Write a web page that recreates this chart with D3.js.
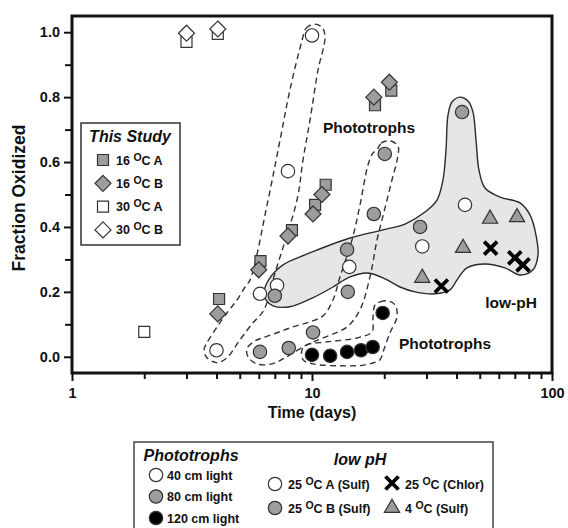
<!DOCTYPE html>
<html>
<head>
<meta charset="utf-8">
<script src="https://cdn.jsdelivr.net/npm/d3@7"></script>
<style>
  body { margin: 0; background: #fff; }
  text { font-family: Arial, "Liberation Sans", sans-serif; font-weight: bold; fill: #111; }
</style>
</head>
<body>
<div id="chart"></div>
<script>
// ---- data (days, fraction oxidized) ----
const study16A = [[4.1,0.178],[6.1,0.295],[8.25,0.39],[10.3,0.468],[11.4,0.53],[18.3,0.775],[21.4,0.82]];
const study16B = [[4.05,0.132],[6.0,0.268],[7.94,0.372],[10.1,0.44],[11.0,0.50],[18.1,0.80],[21.0,0.846]];
const study30A = [[2.0,0.077],[3.0,0.97],[4.05,0.995]];
const study30B = [[3.0,0.997],[4.05,1.01]];

const photo40 = [[4.0,0.02],[6.07,0.194],[7.94,0.572],[10.0,0.99]];
const photo80 = [[6.07,0.015],[8.0,0.027],[10.1,0.075],[14.1,0.2],[18.1,0.44],[20.1,0.625]];
const photo120 = [[10.0,0.006],[11.9,0.003],[14.0,0.015],[16.0,0.02],[17.9,0.03],[19.7,0.135]];

const lowA = [[7.15,0.22],[14.3,0.277],[28.8,0.34],[43.4,0.468]];
const lowB = [[7.0,0.188],[14.0,0.33],[28.2,0.40],[42.2,0.754]];
const lowChlor = [[34.6,0.218],[55.5,0.335],[70.0,0.305],[75.7,0.283]];
const lowCold = [[28.8,0.243],[42.6,0.335],[55.2,0.425],[71.5,0.43]];

// group outlines (in data units)
const outline40 = [[9.09,0.975],[9.44,1.012],[10.19,1.025],[11.01,1.015],[11.33,0.985],[10.59,0.883],[9.81,0.729],[9.17,0.606],[8.66,0.483],[6.88,0.237],[6.56,0.175],[6.19,0.135],[5.68,0.105],[5.01,0.052],[4.42,-0.003],[4.02,-0.018],[3.65,-0.003],[3.55,0.022],[3.65,0.043],[4.02,0.092],[4.42,0.135],[4.87,0.175],[5.26,0.215],[5.52,0.237],[6.56,0.483],[7.36,0.668],[8.09,0.822]];
const outline80 = [[18.66,0.637],[19.39,0.658],[21.13,0.665],[22.82,0.649],[22.61,0.606],[21.54,0.545],[20.54,0.483],[19.57,0.422],[18.66,0.36],[17.44,0.246],[15.85,0.145],[13.99,0.092],[11.11,0.058],[9.53,0.037],[7.72,-0.003],[6.81,-0.022],[5.90,-0.022],[5.41,0],[5.36,0.025],[5.79,0.049],[6.19,0.058],[7.15,0.074],[8.33,0.092],[9.81,0.108],[11.11,0.126],[12.23,0.175],[13.08,0.246],[14.68,0.36],[15.85,0.468],[17.11,0.591],[17.95,0.628]];
const outline120 = [[18.30,0.16],[19.20,0.169],[20.73,0.172],[22.17,0.16],[22.61,0.123],[21.13,0.074],[19.76,0.015],[19.20,-0.009],[16.63,-0.025],[13.99,-0.028],[10.10,-0.022],[9.17,-0.009],[9.09,0.022],[9.53,0.037],[11.55,0.046],[15.40,0.058],[17.78,0.077],[17.95,0.12]];
const outlineLowPH = [[6.31,0.2],[6.68,0.243],[7.57,0.283],[8.91,0.308],[10.49,0.329],[14.40,0.366],[19.76,0.391],[24.40,0.409],[29.57,0.446],[33.17,0.483],[35.14,0.545],[36.17,0.637],[36.87,0.745],[38.31,0.785],[41.37,0.8],[44.67,0.788],[46.86,0.754],[48.24,0.668],[49.64,0.575],[52.58,0.52],[60.73,0.492],[73.56,0.474],[80.96,0.437],[85.77,0.375],[87.44,0.314],[83.33,0.268],[73.56,0.252],[63.72,0.274],[52.58,0.286],[44.23,0.274],[40.20,0.237],[37.58,0.206],[32.54,0.194],[26.87,0.2],[23.26,0.215],[20.15,0.24],[17.11,0.258],[14.40,0.246],[12.23,0.215],[10.10,0.182],[8.09,0.154],[6.88,0.157],[6.43,0.175]];

const yMajor = [0, 0.2, 0.4, 0.6, 0.8, 1.0];
const yMinor = [0.1, 0.3, 0.5, 0.7, 0.9];
const xMajor = [1, 10, 100];
const xMinor = [2,3,4,5,6,7,8,9,20,30,40,50,60,70,80,90];

const GRAY = "#9d9d9d", EDGE = "#333";

const svg = d3.select("#chart").append("svg").attr("width", 568).attr("height", 528);

const x = d3.scaleLog().domain([1, 100]).range([72, 552]);
const y = d3.scaleLinear().domain([-0.05, 1.05]).range([373, 16]);

// outlines
const blob = d3.line().x(d => x(d[0])).y(d => y(d[1])).curve(d3.curveCatmullRomClosed.alpha(0.5));

svg.append("path").attr("d", blob(outlineLowPH))
  .attr("fill", "#e6e6e6").attr("stroke", "#2a2a2a").attr("stroke-width", 1.4);

[outline40, outline80, outline120].forEach(o => {
  svg.append("path").attr("d", blob(o))
    .attr("fill", "none").attr("stroke", "#333").attr("stroke-width", 1.4)
    .attr("stroke-dasharray", "6,4");
});

// annotation labels
svg.append("text").attr("x", 369).attr("y", 133).attr("text-anchor", "middle")
  .style("font-size", "15.5px").text("Phototrophs");
svg.append("text").attr("x", 445).attr("y", 349).attr("text-anchor", "middle")
  .style("font-size", "15.5px").text("Phototrophs");
svg.append("text").attr("x", 511).attr("y", 308).attr("text-anchor", "middle")
  .style("font-size", "15.5px").text("low-pH");

// marker helpers
const diamond = r => `M0,${-r}L${r},0L0,${r}L${-r},0Z`;
const cross = r => `M${-r},${-r}L${r},${r}M${-r},${r}L${r},${-r}`;
const square = d3.symbol().type(d3.symbolSquare).size(121)();
const tri = d3.symbol().type(d3.symbolTriangle).size(100)();

function marks(data, path, fill, stroke, sw) {
  svg.append("g").selectAll("path").data(data).join("path")
    .attr("transform", d => `translate(${x(d[0])},${y(d[1])})`)
    .attr("d", path).attr("fill", fill).attr("stroke", stroke).attr("stroke-width", sw);
}
function circles(data, fill) {
  svg.append("g").selectAll("circle").data(data).join("circle")
    .attr("cx", d => x(d[0])).attr("cy", d => y(d[1])).attr("r", 6.7)
    .attr("fill", fill).attr("stroke", EDGE).attr("stroke-width", 1.2);
}

marks(study30A, square, "#fff", EDGE, 1.2);
marks(study30B, diamond(8), "#fff", EDGE, 1.2);
marks(study16A, square, GRAY, EDGE, 1.2);
marks(study16B, diamond(8), GRAY, EDGE, 1.2);

circles(photo40, "#fff");
circles(lowA, "#fff");
circles(photo80, GRAY);
circles(lowB, GRAY);
circles(photo120, "#000");
marks(lowCold, tri, GRAY, EDGE, 1.2);
marks(lowChlor, cross(6.5), "none", "#000", 3.8);

// axes
svg.append("g").attr("transform", "translate(72,0)")
  .call(d3.axisLeft(y).tickValues(yMajor).tickFormat(d3.format(".1f")).tickSize(8).tickPadding(4));
svg.append("g").attr("transform", "translate(72,0)")
  .call(d3.axisLeft(y).tickValues(yMinor).tickFormat("").tickSize(7));
svg.append("g").attr("transform", "translate(0,373)")
  .call(d3.axisBottom(x).tickValues(xMajor).tickFormat(d3.format("d")).tickSize(8).tickPadding(7));
svg.append("g").attr("transform", "translate(0,373)")
  .call(d3.axisBottom(x).tickValues(xMinor).tickFormat("").tickSize(6));

svg.selectAll(".domain").remove();
svg.selectAll(".tick line").attr("stroke", "#111").attr("stroke-width", 2);
svg.selectAll(".tick text").style("font-size", "14.5px").style("font-family", "Arial, 'Liberation Sans', sans-serif")
  .style("font-weight", "bold").attr("fill", "#111");

svg.append("rect").attr("x", 72).attr("y", 16).attr("width", 480).attr("height", 357)
  .attr("fill", "none").attr("stroke", "#111").attr("stroke-width", 3);

svg.append("text").attr("x", 312).attr("y", 418).attr("text-anchor", "middle")
  .style("font-size", "16px").text("Time (days)");
svg.append("text").attr("transform", "translate(25,198) rotate(-90)").attr("text-anchor", "middle")
  .style("font-size", "17.5px").text("Fraction Oxidized");

// degree-style label: "16 °C A"
function degLabel(g, tx, ty, pre, post, size) {
  const t = g.append("text").attr("x", tx).attr("y", ty).style("font-size", size + "px");
  t.append("tspan").text(pre);
  t.append("tspan").attr("dy", -4).style("font-size", (size - 2) + "px").text("O");
  t.append("tspan").attr("dy", 4).text(post);
}

// legend: This Study
const lg1 = svg.append("g");
lg1.append("rect").attr("x", 81).attr("y", 123).attr("width", 99).attr("height", 122)
  .attr("fill", "#fff").attr("stroke", "#333").attr("stroke-width", 1.5);
lg1.append("text").attr("x", 130).attr("y", 142).attr("text-anchor", "middle")
  .style("font-size", "16px").style("font-style", "italic").text("This Study");
const studyItems = [["16 ", "C A", square, GRAY], ["16 ", "C B", diamond(8), GRAY],
                    ["30 ", "C A", square, "#fff"], ["30 ", "C B", diamond(8), "#fff"]];
studyItems.forEach((it, i) => {
  const cy = 160 + i * 23.3;
  lg1.append("path").attr("transform", `translate(103,${cy})`).attr("d", it[2])
    .attr("fill", it[3]).attr("stroke", EDGE).attr("stroke-width", 1.2);
  degLabel(lg1, 116, cy + 4.5, it[0], it[1], 12.5);
});

// legend: Phototrophs / low pH
const lg2 = svg.append("g");
lg2.append("rect").attr("x", 134).attr("y", 442).attr("width", 359).attr("height", 100)
  .attr("fill", "#fff").attr("stroke", "#444").attr("stroke-width", 1.5);
lg2.append("text").attr("x", 191).attr("y", 461).attr("text-anchor", "middle")
  .style("font-size", "16px").style("font-style", "italic").text("Phototrophs");
const photoItems = [["40 cm light", "#fff"], ["80 cm light", GRAY], ["120 cm light", "#000"]];
photoItems.forEach((it, i) => {
  const cy = 475 + i * 21.5;
  lg2.append("circle").attr("cx", 156).attr("cy", cy).attr("r", 6.7)
    .attr("fill", it[1]).attr("stroke", EDGE).attr("stroke-width", 1.2);
  lg2.append("text").attr("x", 167).attr("y", cy + 4.5).style("font-size", "12.5px").text(it[0]);
});
lg2.append("text").attr("x", 360).attr("y", 465).attr("text-anchor", "middle")
  .style("font-size", "16px").style("font-style", "italic").text("low pH");

lg2.append("circle").attr("cx", 275).attr("cy", 484).attr("r", 6.7)
  .attr("fill", "#fff").attr("stroke", EDGE).attr("stroke-width", 1.2);
degLabel(lg2, 288, 488.5, "25 ", "C A (Sulf)", 12.5);
lg2.append("circle").attr("cx", 275).attr("cy", 508).attr("r", 6.7)
  .attr("fill", GRAY).attr("stroke", EDGE).attr("stroke-width", 1.2);
degLabel(lg2, 288, 512.5, "25 ", "C B (Sulf)", 12.5);
lg2.append("path").attr("transform", "translate(392,483)").attr("d", cross(6.5))
  .attr("fill", "none").attr("stroke", "#000").attr("stroke-width", 3.8);
degLabel(lg2, 405, 488.5, "25 ", "C (Chlor)", 12.5);
lg2.append("path").attr("transform", "translate(392,508)").attr("d", tri)
  .attr("fill", GRAY).attr("stroke", EDGE).attr("stroke-width", 1.2);
degLabel(lg2, 405, 512.5, "4 ", "C (Sulf)", 12.5);
</script>
</body>
</html>
